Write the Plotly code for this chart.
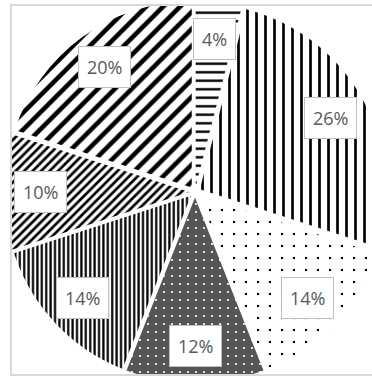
import math
import plotly.graph_objects as go

# ---- data ----
values = [4, 26, 14, 12, 14, 10, 20]
labels = ["A", "B", "C", "D", "E", "F", "G"]

# ---- styles ----
pattern_shapes = ["-", "|", ".", ".", "|", "/", "/"]
pattern_sizes = [8.5, 9, 12, 8, 4.4, 6, 12]
pattern_solidity = [0.28, 0.3, 0.03, 0.06, 0.5, 0.45, 0.38]
pattern_fg = ["black", "black", "black", "white", "black", "black", "black"]
pattern_bg = ["white", "white", "white", "#555555", "white", "white", "white"]

# figure is slightly larger than the 372x377 view; the chart frame clips the pie
W, H = 400, 400
PULL = 0.03
R_PX = 186
CX, CY = 195, 192  # pixels from top-left
half = R_PX * (1 + PULL)
dom_x = [(CX - half) / W, (CX + half) / W]
dom_y = [1 - (CY + half) / H, 1 - (CY - half) / H]

fig = go.Figure(
    go.Pie(
        labels=labels,
        values=values,
        sort=False,
        direction="clockwise",
        rotation=0,
        pull=PULL,
        textinfo="none",
        hoverinfo="skip",
        showlegend=False,
        domain=dict(x=dom_x, y=dom_y),
        marker=dict(
            colors=pattern_bg,
            line=dict(width=0, color="white"),
            pattern=dict(
                shape=pattern_shapes,
                size=pattern_sizes,
                solidity=pattern_solidity,
                fgcolor=pattern_fg,
                bgcolor=pattern_bg,
                fillmode="replace",
            ),
        ),
    )
)

total = sum(values)
cum = 0
annotations = []
for v in values:
    mid = (cum + v / 2) / total * 2 * math.pi
    cum += v
    rl = R_PX * (0.8 + PULL)
    px = CX + rl * math.sin(mid)
    py = CY - rl * math.cos(mid)
    annotations.append(
        dict(
            x=px / W,
            y=1 - py / H,
            xref="paper",
            yref="paper",
            text=f"{v}%",
            showarrow=False,
            font=dict(family="Open Sans, Liberation Sans, sans-serif", size=18, color="#595959"),
            bgcolor="white",
            bordercolor="#bfbfbf",
            borderwidth=1,
            borderpad=8,
            xanchor="center",
            yanchor="middle",
        )
    )

# chart frame (in pixels of the visible area)
FL, FT, FB = 11, 5, 375
mask = dict(type="rect", xref="paper", yref="paper", fillcolor="white",
            line=dict(width=0), layer="above")
shapes = [
    dict(mask, x0=-0.05, x1=FL / W, y0=-0.05, y1=1.05),
    dict(mask, x0=-0.05, x1=1.05, y0=-0.05, y1=1 - FB / H),
    dict(mask, x0=-0.05, x1=1.05, y0=1 - FT / H, y1=1.05),
    dict(
        type="rect",
        xref="paper",
        yref="paper",
        x0=FL / W,
        x1=1.05,
        y0=1 - FB / H,
        y1=1 - FT / H,
        line=dict(color="#d9d9d9", width=2),
        layer="above",
    ),
]

fig.update_layout(
    width=W,
    height=H,
    margin=dict(l=0, r=0, t=0, b=0),
    paper_bgcolor="white",
    plot_bgcolor="white",
    annotations=annotations,
    shapes=shapes,
)

fig.write_html(
    "out.html",
    config={"displayModeBar": False},
    post_script="document.body.style.margin='0';document.body.style.overflow='hidden';",
)
